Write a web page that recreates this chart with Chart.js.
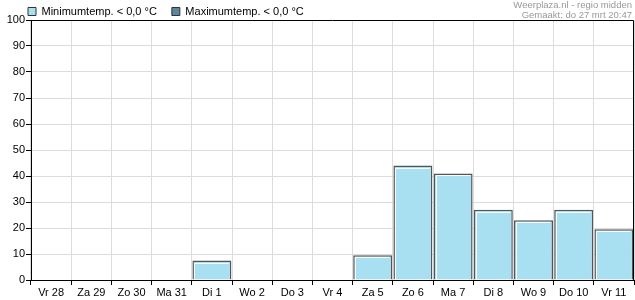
<!DOCTYPE html>
<html>
<head>
<meta charset="utf-8">
<script src="https://cdn.jsdelivr.net/npm/chart.js@4"></script>
<style>
  html, body { margin: 0; padding: 0; background: #fff; }
  #wrap { position: relative; width: 635px; height: 300px; }
</style>
</head>
<body>
<div id="wrap"><canvas id="myChart" width="635" height="300"></canvas></div>
<script>
// chart data
const categories = ['Vr 28', 'Za 29', 'Zo 30', 'Ma 31', 'Di 1', 'Wo 2', 'Do 3', 'Vr 4',
    'Za 5', 'Zo 6', 'Ma 7', 'Di 8', 'Wo 9', 'Do 10', 'Vr 11'];
const minTempValues = [0, 0, 0, 0, 7.5, 0, 0, 0, 9.5, 44, 41, 27, 23, 27, 19.5];
const maxTempValues = [0, 0, 0, 0, 0, 0, 0, 0, 0, 0, 0, 0, 0, 0, 0];
const seriesNames = ['Minimumtemp. < 0,0 °C', 'Maximumtemp. < 0,0 °C'];
const yTicks = [0, 10, 20, 30, 40, 50, 60, 70, 80, 90, 100];
const creditLines = ['Weerplaza.nl - regio midden', 'Gemaakt: do 27 mrt 20:47'];

const font = { family: '"Liberation Sans", Arial, sans-serif', size: 11 };

// fixed legend height so the plot starts at the right place
const legendHeight = {
    id: 'legendHeight',
    afterInit(chart) {
        const fit = chart.legend.fit;
        chart.legend.fit = function () {
            fit.call(this);
            this.height = 20;
        };
    },
    beforeDraw(chart) {
        // the item padding also pushes the row down and right, move it back
        chart.legend.top = -9;
        chart.legend.left = 13;
    }
};

// box around plot, bar highlight and credit text
const extras = {
    id: 'extras',
    afterDatasetsDraw(chart) {
        const ctx = chart.ctx;
        const meta = chart.getDatasetMeta(0);
        ctx.save();
        ctx.strokeStyle = 'rgba(255,255,255,0.9)';
        ctx.lineWidth = 1;
        meta.data.forEach(bar => {
            const p = bar.getProps(['x', 'y', 'base', 'width'], true);
            if (p.base - p.y < 4) return;
            const l = Math.round(p.x - p.width / 2) + 2.5;
            const r = Math.round(p.x + p.width / 2) - 2.5;
            ctx.beginPath();
            ctx.moveTo(l, p.base);
            ctx.lineTo(l, Math.round(p.y) + 2.5);
            ctx.lineTo(r, Math.round(p.y) + 2.5);
            ctx.stroke();
        });
        ctx.restore();
    },
    afterDraw(chart) {
        const ctx = chart.ctx;
        const a = chart.chartArea;
        ctx.save();
        ctx.strokeStyle = '#000';
        ctx.lineWidth = 1;
        ctx.beginPath();
        ctx.moveTo(Math.round(a.left) + 0.5, Math.round(a.top) + 0.5);
        ctx.lineTo(Math.round(a.right) - 0.5, Math.round(a.top) + 0.5);
        ctx.lineTo(Math.round(a.right) - 0.5, Math.round(a.bottom));
        ctx.stroke();
        ctx.fillStyle = '#999';
        ctx.font = '9.5px "Liberation Sans", Arial, sans-serif';
        ctx.textAlign = 'right';
        ctx.textBaseline = 'middle';
        ctx.fillText(creditLines[0], 632, 5);
        ctx.fillText(creditLines[1], 632, 15);
        ctx.restore();
    }
};

new Chart(document.getElementById('myChart').getContext('2d'), {
    type: 'bar',
    data: {
        labels: categories,
        datasets: [
            {
                label: seriesNames[0],
                data: minTempValues,
                backgroundColor: '#a9e0f1',
                borderColor: '#555',
                borderWidth: 1.5,
                borderSkipped: 'start',
                barPercentage: 1,
                categoryPercentage: 0.97,
                grouped: false
            },
            {
                label: seriesNames[1],
                data: maxTempValues,
                backgroundColor: '#5b87a2',
                borderColor: '#333',
                borderWidth: 0,
                barPercentage: 1,
                categoryPercentage: 0.97,
                grouped: false
            }
        ]
    },
    options: {
        responsive: false,
        animation: false,
        layout: { padding: { left: 0, right: 1, top: 0, bottom: 0 } },
        plugins: {
            legend: {
                position: 'top',
                align: 'start',
                labels: {
                    font: font,
                    color: '#000',
                    boxWidth: 8,
                    boxHeight: 8,
                    padding: 15,
                    generateLabels(chart) {
                        return chart.data.datasets.map((ds, i) => ({
                            text: ds.label,
                            fillStyle: ds.backgroundColor,
                            strokeStyle: '#333',
                            lineWidth: 1,
                            fontColor: '#000',
                            hidden: false,
                            datasetIndex: i
                        }));
                    }
                }
            },
            tooltip: { enabled: false }
        },
        scales: {
            x: {
                grid: { color: '#dcdcdc', tickColor: '#000', tickLength: 5, offset: true },
                border: { color: '#000' },
                ticks: { font: font, color: '#000', padding: 1, maxRotation: 0, autoSkip: false },
                afterFit(scale) { scale.height = 20; }
            },
            y: {
                min: 0,
                max: 100,
                grid: { color: '#dcdcdc', tickColor: '#000', tickLength: 5 },
                border: { color: '#000' },
                ticks: {
                    font: font,
                    color: '#000',
                    padding: 1,
                    stepSize: 10,
                    callback: (v) => yTicks.includes(v) ? String(v) : ''
                },
                afterFit(scale) { scale.width = 31; }
            }
        }
    },
    plugins: [legendHeight, extras]
});
</script>
</body>
</html>
